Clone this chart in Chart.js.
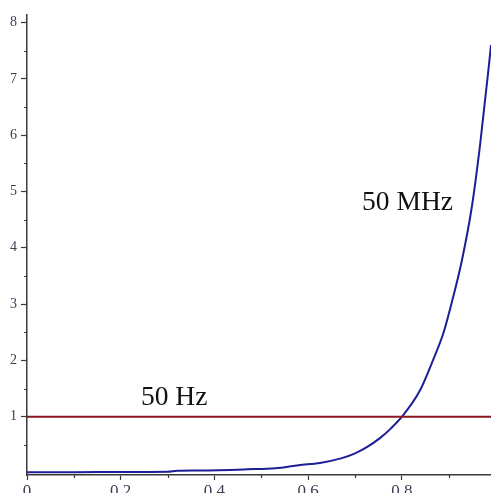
<!DOCTYPE html>
<html>
<head>
<meta charset="utf-8">
<script src="https://cdn.jsdelivr.net/npm/chart.js@4"></script>
<style>
  html, body { margin: 0; padding: 0; background: #fff; }
  #wrap { width: 491px; height: 493px; }
</style>
</head>
<body>
<div id="wrap"><canvas id="plot"></canvas></div>
<script>
/* #region DATA */
const curveX = [0, 0.1, 0.2, 0.3, 0.32, 0.37, 0.47, 0.53, 0.58, 0.625, 0.67, 0.7, 0.725, 0.753, 0.775, 0.8, 0.838, 0.867, 0.889, 0.91, 0.928, 0.949, 0.967, 0.985, 0.99];
const curveY = [0.015, 0.015, 0.018, 0.022, 0.04, 0.045, 0.066, 0.085, 0.14, 0.18, 0.26, 0.35, 0.46, 0.62, 0.78, 1.0, 1.46, 2.02, 2.5, 3.15, 3.78, 4.72, 5.85, 7.2, 7.6];
const lineX = [0, 0.99];
const lineY = [1, 1];
const xTicks = [0, 0.2, 0.4, 0.6, 0.8];
const xMinorTicks = [0.1, 0.3, 0.5, 0.7, 0.9];
const yTicks = [1, 2, 3, 4, 5, 6, 7, 8];
const yMinorTicks = [0.5, 1.5, 2.5, 3.5, 4.5, 5.5, 6.5, 7.5];
const labels = [
  { text: "50 Hz", x: 0.243, y: 1.33 },
  { text: "50 MHz", x: 0.715, y: 4.8 },
];
/* #endregion */

const toPoints = (xs, ys) => xs.map((x, i) => ({ x: x, y: ys[i] }));
const axisColor = "#3a3a3a";
const tickFont = "Liberation Serif";

// short ticks + the two text labels
const extras = {
  id: "extras",
  afterDraw(chart) {
    const ctx = chart.ctx;
    const xs = chart.scales.x;
    const ys = chart.scales.y;
    const area = chart.chartArea;
    ctx.save();
    ctx.strokeStyle = axisColor;
    ctx.lineWidth = 1.2;
    ctx.beginPath();
    yMinorTicks.forEach((v) => {
      const py = Math.round(ys.getPixelForValue(v)) + 0.5;
      ctx.moveTo(area.left - 3, py);
      ctx.lineTo(area.left, py);
    });
    xMinorTicks.forEach((v) => {
      const px = Math.round(xs.getPixelForValue(v)) + 0.5;
      ctx.moveTo(px, area.bottom);
      ctx.lineTo(px, area.bottom + 3);
    });
    ctx.stroke();

    ctx.fillStyle = "#111";
    ctx.font = "27.5px 'Liberation Serif'";
    ctx.textAlign = "left";
    ctx.textBaseline = "middle";
    labels.forEach((l) => {
      ctx.fillText(l.text, xs.getPixelForValue(l.x), ys.getPixelForValue(l.y));
    });
    ctx.restore();
  },
};

let plot = new Chart(document.getElementById("plot").getContext("2d"), {
  type: "line",
  data: {
    datasets: [
      {
        data: toPoints(lineX, lineY),
        borderColor: "#8e1520",
        borderWidth: 2,
        pointRadius: 0,
      },
      {
        data: toPoints(curveX, curveY),
        borderColor: "#1c1f96",
        borderWidth: 2,
        pointRadius: 0,
        cubicInterpolationMode: "monotone",
      },
    ],
  },
  options: {
    responsive: true,
    maintainAspectRatio: false,
    animation: false,
    layout: { padding: { top: 15, right: 0, left: 0, bottom: 0 } },
    plugins: {
      legend: { display: false },
      tooltip: { enabled: false },
    },
    scales: {
      x: {
        type: "linear",
        min: 0,
        max: 0.99,
        afterBuildTicks: (scale) => {
          scale.ticks = xTicks.map((v) => ({ value: v }));
        },
        afterFit: (scale) => {
          scale.height = 18;
        },
        grid: {
          drawOnChartArea: false,
          drawTicks: true,
          tickLength: 5,
          tickColor: axisColor,
          tickWidth: 1.2,
        },
        border: { display: true, color: axisColor, width: 1.5 },
        ticks: {
          padding: 1,
          color: "#3b3f55",
          font: { family: tickFont, size: 17 },
          maxRotation: 0,
          autoSkip: false,
          callback: (v) => (v === 0 ? "0" : v.toFixed(1)),
        },
      },
      y: {
        type: "linear",
        min: -0.035,
        max: 8.135,
        afterBuildTicks: (scale) => {
          scale.ticks = yTicks.map((v) => ({ value: v }));
        },
        afterFit: (scale) => {
          scale.width = 27;
        },
        grid: {
          drawOnChartArea: false,
          drawTicks: true,
          tickLength: 6,
          tickColor: axisColor,
          tickWidth: 1.2,
        },
        border: { display: true, color: axisColor, width: 1.5 },
        ticks: {
          padding: 4,
          color: "#3b3f55",
          font: { family: tickFont, size: 14 },
          autoSkip: false,
          callback: (v) => String(v),
        },
      },
    },
  },
  plugins: [extras],
});
</script>
</body>
</html>
